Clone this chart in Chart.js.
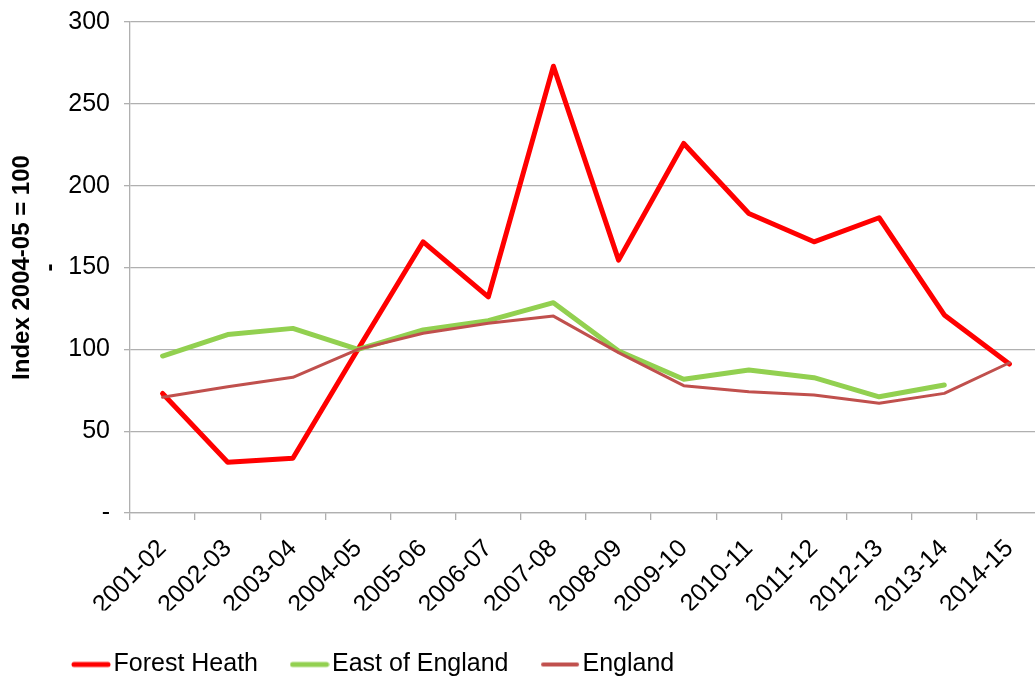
<!DOCTYPE html>
<html><head><meta charset="utf-8">
<script src="https://cdn.jsdelivr.net/npm/chart.js@4.4.1/dist/chart.umd.min.js"></script>
<style>
html,body{margin:0;padding:0;overflow:hidden;background:#fff;width:1035px;height:677px}
#wrap{position:absolute;left:0;top:0;width:1050px;height:687px}
</style>
</head><body><div id="wrap"><canvas id="c" width="1050" height="687"></canvas></div>
<script>
const categories = ['2001-02','2002-03','2003-04','2004-05','2005-06','2006-07','2007-08','2008-09','2009-10','2010-11','2011-12','2012-13','2013-14','2014-15'];
const forestHeath   = [73, 31, 33.4, 100, 165.7, 132, 273, 154.5, 225.8, 183, 165.7, 180.4, 121, 91];
const eastOfEngland = [95.9, 109, 112.8, 100, 111.8, 117.5, 128.5, 99, 81.7, 87.4, 82.7, 71, 78.2, null];
const england       = [70.7, 77.2, 82.9, 100, 109.8, 115.9, 120.3, 98, 77.8, 74.1, 72.1, 67, 73.1, 91.8];
const yTickValues   = [0, 50, 100, 150, 200, 250, 300];
const seriesNames   = ['Forest Heath', 'East of England', 'England'];
const yTitle        = ['Index 2004-05 = 100', '-'];

const FONT = '"Liberation Sans", Arial, sans-serif';
const colors = ['#FF0000', '#92D050', '#C0504D'];
const widths = [5, 5, 3];

function lineSample(color, w) {
  const c = document.createElement('canvas');
  c.width = 40; c.height = 8;
  const g = c.getContext('2d');
  g.strokeStyle = color; g.lineWidth = w; g.lineCap = 'round';
  g.beginPath(); g.moveTo(3, 4); g.lineTo(37, 4); g.stroke();
  return c;
}
const samples = [lineSample(colors[0], 5), lineSample(colors[1], 5), lineSample(colors[2], 4)];

const legendShift = {
  id: 'legendShift',
  afterLayout(chart) { if (chart.legend) chart.legend.left = 39.5; }
};

new Chart(document.getElementById('c'), {
  type: 'line',
  data: {
    labels: categories,
    datasets: [
      { label: seriesNames[0], data: forestHeath, borderColor: colors[0], backgroundColor: colors[0], borderWidth: widths[0], order: 3 },
      { label: seriesNames[1], data: eastOfEngland, borderColor: colors[1], backgroundColor: colors[1], borderWidth: widths[1], order: 2 },
      { label: seriesNames[2], data: england, borderColor: colors[2], backgroundColor: colors[2], borderWidth: widths[2], order: 1 }
    ]
  },
  options: {
    responsive: false,
    animation: false,
    devicePixelRatio: 1,
    layout: { padding: { top: 22, right: 8, bottom: 0, left: 0 } },
    elements: {
      line: { tension: 0, borderJoinStyle: 'round', borderCapStyle: 'round', fill: false },
      point: { radius: 0, hoverRadius: 0 }
    },
    scales: {
      x: {
        type: 'category',
        offset: true,
        grid: { offset: true, drawOnChartArea: false, drawTicks: true, tickLength: 7, color: '#B0B0B0', lineWidth: 1.3 },
        border: { display: true, color: '#B0B0B0', width: 1.3 },
        ticks: { minRotation: 45, maxRotation: 45, autoSkip: false, padding: 14, color: '#000', font: { family: FONT, size: 25 } },
        afterFit(s) { s.height = 97.5; }
      },
      y: {
        min: 0, max: 300,
        afterBuildTicks(s) { s.ticks = yTickValues.map(v => ({ value: v })); },
        grid: { color: '#B0B0B0', lineWidth: 1.3, tickLength: 6, drawTicks: true },
        border: { display: true, color: '#B0B0B0', width: 1.3 },
        ticks: { padding: 14, color: '#000', font: { family: FONT, size: 25 },
          callback: (v) => v === 0 ? '-' : String(v) },
        title: { display: true, text: yTitle, color: '#000', padding: { top: 8, bottom: 0 },
          font: { family: FONT, size: 24, weight: 'bold', lineHeight: 1.17 } },
        afterFit(s) { s.width = 130; s.paddingTop = 0; s.paddingBottom = 0; }
      }
    },
    plugins: {
      tooltip: { enabled: false },
      legend: {
        display: true,
        position: 'bottom',
        align: 'start',
        labels: {
          usePointStyle: true,
          pointStyleWidth: 20,
          padding: 41.5,
          color: '#000',
          font: { family: FONT, size: 25 },
          sort: (a, b) => a.datasetIndex - b.datasetIndex,
          generateLabels(chart) {
            const items = Chart.defaults.plugins.legend.labels.generateLabels(chart);
            items.forEach(it => { it.pointStyle = samples[it.datasetIndex]; });
            return items;
          }
        }
      }
    }
  },
  plugins: [legendShift]
});
</script>
</body></html>
